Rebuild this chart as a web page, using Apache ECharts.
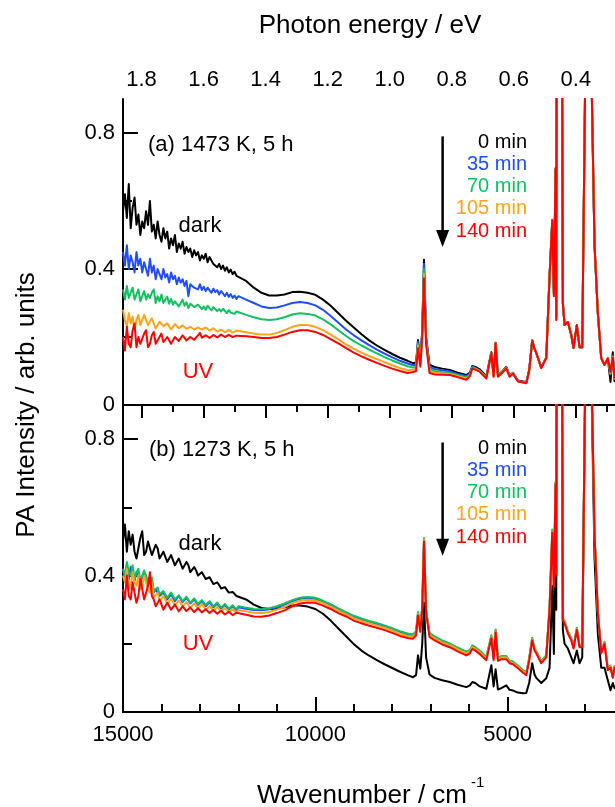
<!DOCTYPE html>
<html>
<head>
<meta charset="utf-8">
<script src="https://cdn.jsdelivr.net/npm/echarts@6/dist/echarts.min.js"></script>
<style>
  html, body { margin: 0; padding: 0; background: #fff; overflow: hidden; }
  #chart { width: 640px; height: 807px; }
</style>
</head>
<body>
<div id="chart"></div>
<script>
// wavenumber grid (cm-1), shared by every spectrum
const wavenumber = [
  15000,14950,14900,14850,14800,14750,14700,14650,14600,14550,
  14500,14450,14400,14350,14300,14250,14200,14150,14100,14050,
  14000,13950,13900,13850,13800,13750,13700,13650,13600,13550,
  13500,13450,13400,13350,13300,13250,13200,13150,13100,13050,
  13000,12950,12900,12850,12800,12750,12700,12650,12600,12550,
  12500,12450,12400,12350,12300,12250,12200,12150,12100,12050,
  12000,
  11800,11600,11400,11200,11000,10800,10600,10400,10200,10000,9800,9600,9400,9200,9000,8800,8600,8400,8200,8000,7800,7600,
  7460,7380,7330,7270,7220,7174,7120,7030,6900,6700,6506,6300,6073,5980,5917,5840,5727,5553,5423,5364,5312,5252,
  5164,5034,4948,4862,4732,4600,4514,4440,4360,4300,4255,4125,3995,3909,3839,3797,3753,3735,3720,3650,3600,3564,
  3519,3433,3345,3286,3200,3130,3060,2920,2740,2654,2566,2481,2395,2325,2265,2221,2100,2000
];

const timeLabels = ['0 min', '35 min', '70 min', '105 min', '140 min'];
const colors = ['#000000', '#1f4dff', '#12c060', '#ffa31a', '#ff0000'];

// (a) 1473 K, 5 h
const a0 = [
  0.57,0.62,0.55,0.65,0.52,0.58,0.61,0.53,0.56,0.50,
  0.54,0.52,0.57,0.53,0.60,0.51,0.53,0.49,0.54,0.50,
  0.48,0.52,0.49,0.51,0.46,0.49,0.47,0.50,0.45,0.475,
  0.46,0.48,0.445,0.465,0.45,0.46,0.435,0.455,0.44,0.45,
  0.425,0.44,0.43,0.445,0.42,0.435,0.425,0.415,0.42,0.405,
  0.415,0.40,0.41,0.395,0.405,0.39,0.398,0.385,0.392,0.38,
  0.383,
  0.365,0.345,0.33,0.322,0.322,0.325,0.332,0.333,0.33,0.324,0.31,0.292,0.27,0.248,0.228,0.208,0.19,0.175,0.162,0.15,0.139,0.13,
  0.123,0.125,0.191,0.13,0.22,0.427,0.2,0.118,0.112,0.107,0.103,0.095,0.088,0.095,0.115,0.112,0.105,0.085,0.155,0.088,0.183,0.088,0.096,0.112,0.087,0.095,0.072,0.069,0.067,0.103,0.19,0.165,0.153,0.11,0.14,0.38,0.54,0.33,0.69,0.26,1.6,1.3,1.6,0.3,0.235,0.244,0.206,0.168,0.235,0.17,0.17,1.6,0.47,0.27,0.138,0.118,0.137,0.068,0.155,0.07,0.07,0.07];
const a1 = [
  0.45,0.41,0.47,0.40,0.44,0.42,0.39,0.45,0.41,0.43,
  0.39,0.42,0.40,0.38,0.43,0.39,0.41,0.37,0.40,0.385,
  0.37,0.40,0.375,0.385,0.36,0.39,0.37,0.38,0.355,0.375,
  0.36,0.37,0.35,0.365,0.32,0.355,0.36,0.345,0.35,0.34,
  0.355,0.338,0.348,0.335,0.345,0.34,0.33,0.342,0.332,0.338,
  0.325,0.335,0.328,0.32,0.33,0.318,0.326,0.315,0.322,0.312,
  0.32,
  0.31,0.30,0.29,0.285,0.287,0.293,0.30,0.303,0.30,0.293,0.28,0.262,0.242,0.222,0.205,0.19,0.176,0.163,0.151,0.14,0.13,0.122,
  0.117,0.119,0.185,0.126,0.215,0.415,0.195,0.112,0.106,0.102,0.099,0.091,0.085,0.092,0.113,0.109,0.102,0.083,0.154,0.087,0.182,0.087,0.095,0.111,0.086,0.094,0.071,0.068,0.066,0.102,0.19,0.165,0.153,0.11,0.139,0.38,0.542,0.326,0.693,0.255,1.6,1.3,1.6,0.3,0.235,0.244,0.206,0.168,0.235,0.17,0.17,1.6,0.47,0.27,0.138,0.118,0.137,0.09,0.145,0.075,0.075,0.075];
const a2 = [
  0.34,0.31,0.35,0.315,0.33,0.345,0.31,0.325,0.34,0.305,
  0.32,0.335,0.31,0.325,0.315,0.33,0.34,0.30,0.32,0.305,
  0.325,0.30,0.31,0.318,0.298,0.312,0.295,0.305,0.31,0.29,
  0.30,0.31,0.292,0.302,0.285,0.298,0.30,0.288,0.283,0.295,
  0.295,0.282,0.29,0.28,0.292,0.285,0.278,0.288,0.283,0.276,
  0.282,0.275,0.283,0.278,0.27,0.279,0.272,0.276,0.268,0.275,
  0.272,
  0.265,0.258,0.252,0.25,0.252,0.258,0.266,0.27,0.268,0.263,0.252,0.237,0.22,0.203,0.188,0.175,0.163,0.152,0.141,0.131,0.122,0.114,
  0.11,0.113,0.18,0.121,0.21,0.40,0.19,0.106,0.1,0.097,0.095,0.088,0.081,0.089,0.111,0.107,0.1,0.081,0.153,0.086,0.182,0.086,0.094,0.11,0.085,0.093,0.07,0.067,0.065,0.101,0.191,0.165,0.153,0.11,0.139,0.38,0.545,0.324,0.695,0.252,1.6,1.3,1.6,0.3,0.235,0.244,0.206,0.168,0.235,0.17,0.17,1.6,0.47,0.27,0.138,0.118,0.137,0.092,0.142,0.078,0.078,0.078];
const a3 = [
  0.28,0.25,0.23,0.27,0.24,0.26,0.22,0.25,0.265,0.235,
  0.24,0.265,0.27,0.235,0.24,0.255,0.25,0.225,0.23,0.245,
  0.25,0.232,0.228,0.24,0.245,0.222,0.225,0.238,0.24,0.226,
  0.222,0.234,0.236,0.224,0.22,0.23,0.235,0.222,0.218,0.228,
  0.232,0.222,0.22,0.228,0.23,0.219,0.218,0.226,0.226,0.216,
  0.215,0.222,0.224,0.214,0.214,0.221,0.22,0.213,0.212,0.219,
  0.218,
  0.214,0.21,0.207,0.207,0.212,0.22,0.23,0.235,0.235,0.23,0.22,0.207,0.193,0.178,0.165,0.154,0.144,0.135,0.126,0.117,0.109,0.102,
  0.104,0.107,0.174,0.117,0.205,0.385,0.186,0.1,0.095,0.093,0.091,0.085,0.078,0.087,0.109,0.106,0.099,0.08,0.152,0.085,0.181,0.085,0.093,0.109,0.084,0.093,0.07,0.067,0.065,0.1,0.19,0.165,0.153,0.109,0.138,0.38,0.544,0.322,0.697,0.251,1.6,1.3,1.6,0.3,0.235,0.244,0.206,0.168,0.235,0.17,0.17,1.6,0.47,0.27,0.138,0.118,0.137,0.094,0.141,0.079,0.079,0.079];
const a4 = [
  0.20,0.16,0.23,0.18,0.17,0.22,0.24,0.17,0.20,0.18,
  0.175,0.21,0.22,0.17,0.18,0.205,0.215,0.18,0.185,0.2,
  0.21,0.185,0.18,0.2,0.205,0.18,0.185,0.2,0.2,0.188,
  0.19,0.205,0.21,0.19,0.19,0.2,0.205,0.192,0.195,0.205,
  0.212,0.198,0.196,0.205,0.21,0.197,0.198,0.206,0.208,0.199,
  0.2,0.207,0.21,0.2,0.2,0.206,0.207,0.2,0.199,0.204,
  0.205,
  0.202,0.2,0.197,0.197,0.2,0.207,0.215,0.22,0.22,0.215,0.206,0.194,0.181,0.167,0.154,0.143,0.133,0.124,0.115,0.107,0.1,0.094,
  0.097,0.1,0.167,0.113,0.2,0.373,0.18,0.094,0.09,0.089,0.088,0.082,0.074,0.085,0.108,0.104,0.098,0.078,0.152,0.083,0.181,0.083,0.092,0.108,0.083,0.092,0.069,0.066,0.064,0.1,0.19,0.165,0.153,0.109,0.138,0.38,0.544,0.32,0.697,0.25,1.6,1.3,1.6,0.3,0.235,0.244,0.206,0.168,0.235,0.17,0.17,1.6,0.47,0.27,0.138,0.118,0.137,0.097,0.14,0.08,0.08,0.08];

// (b) 1273 K, 5 h
const b0 = [
  0.50,0.55,0.47,0.53,0.49,0.52,0.47,0.45,0.48,0.51,
  0.53,0.46,0.47,0.50,0.50,0.46,0.46,0.49,0.48,0.45,
  0.45,0.47,0.47,0.44,0.44,0.46,0.455,0.43,0.435,0.45,
  0.445,0.42,0.425,0.44,0.43,0.41,0.41,0.425,0.415,0.40,
  0.40,0.41,0.405,0.39,0.39,0.395,0.385,0.375,0.375,0.38,
  0.372,0.362,0.362,0.366,0.358,0.35,0.35,0.352,0.347,0.34,
  0.34,
  0.33,0.315,0.305,0.302,0.303,0.307,0.312,0.312,0.309,0.302,0.288,0.268,0.245,0.222,0.199,0.18,0.165,0.152,0.14,0.129,0.118,0.108,
  0.102,0.108,0.166,0.127,0.2,0.32,0.16,0.11,0.1,0.093,0.088,0.08,0.073,0.078,0.088,0.085,0.075,0.068,0.137,0.075,0.125,0.066,0.07,0.078,0.065,0.063,0.057,0.055,0.056,0.085,0.143,0.11,0.1,0.085,0.099,0.13,0.37,0.17,0.6,0.3,1.6,1.3,1.6,0.24,0.2,0.186,0.16,0.143,0.18,0.143,0.16,1.6,0.45,0.23,0.13,0.13,0.093,0.064,0.085,0.07,0.07,0.07];
const b1 = [
  0.415,0.40,0.43,0.39,0.425,0.40,0.385,0.41,0.415,0.38,
  0.38,0.41,0.40,0.37,0.365,0.39,0.35,0.36,0.36,0.34,
  0.335,0.35,0.345,0.33,0.332,0.345,0.34,0.325,0.327,0.34,
  0.336,0.322,0.322,0.335,0.332,0.318,0.317,0.33,0.327,0.314,
  0.315,0.325,0.323,0.31,0.312,0.322,0.319,0.307,0.309,0.318,
  0.315,0.303,0.305,0.314,0.311,0.3,0.302,0.31,0.307,0.298,
  0.307,
  0.303,0.299,0.298,0.301,0.307,0.315,0.325,0.332,0.334,0.332,0.323,0.313,0.301,0.29,0.279,0.271,0.264,0.258,0.251,0.243,0.234,0.227,
  0.225,0.234,0.29,0.244,0.307,0.505,0.297,0.229,0.219,0.207,0.198,0.186,0.174,0.179,0.192,0.187,0.177,0.159,0.222,0.158,0.239,0.156,0.161,0.161,0.148,0.145,0.133,0.12,0.113,0.155,0.215,0.184,0.176,0.147,0.164,0.305,0.53,0.37,0.672,0.405,1.6,1.3,1.6,0.273,0.264,0.234,0.214,0.19,0.244,0.193,0.193,1.6,0.522,0.293,0.175,0.203,0.126,0.133,0.103,0.133,0.103,0.103];
const b2 = [
  0.42,0.40,0.44,0.41,0.40,0.43,0.39,0.41,0.42,0.385,
  0.385,0.415,0.41,0.375,0.37,0.395,0.355,0.36,0.365,0.345,
  0.34,0.355,0.35,0.335,0.335,0.35,0.345,0.33,0.33,0.342,
  0.34,0.325,0.325,0.338,0.335,0.32,0.32,0.333,0.33,0.317,
  0.318,0.328,0.326,0.313,0.315,0.325,0.322,0.31,0.312,0.321,
  0.318,0.306,0.308,0.317,0.314,0.303,0.305,0.313,0.31,0.301,
  0.31,
  0.306,0.302,0.301,0.304,0.31,0.318,0.328,0.335,0.337,0.335,0.326,0.316,0.304,0.293,0.282,0.274,0.267,0.261,0.254,0.246,0.237,0.23,
  0.228,0.237,0.293,0.247,0.31,0.51,0.3,0.232,0.222,0.21,0.201,0.189,0.177,0.182,0.195,0.19,0.18,0.162,0.225,0.161,0.242,0.159,0.164,0.164,0.151,0.148,0.136,0.123,0.116,0.158,0.218,0.187,0.179,0.15,0.167,0.31,0.535,0.372,0.675,0.41,1.6,1.3,1.6,0.276,0.267,0.237,0.217,0.193,0.247,0.196,0.196,1.6,0.525,0.296,0.178,0.206,0.129,0.136,0.105,0.135,0.105,0.105];
const b3 = [
  0.40,0.38,0.42,0.36,0.37,0.41,0.38,0.37,0.40,0.36,
  0.37,0.40,0.40,0.36,0.35,0.38,0.335,0.34,0.35,0.325,
  0.32,0.34,0.34,0.318,0.318,0.332,0.33,0.313,0.313,0.327,
  0.326,0.31,0.31,0.322,0.32,0.305,0.307,0.319,0.317,0.303,
  0.305,0.316,0.313,0.3,0.302,0.311,0.309,0.297,0.3,0.308,
  0.306,0.295,0.297,0.305,0.302,0.292,0.295,0.301,0.299,0.29,
  0.299,
  0.295,0.291,0.29,0.293,0.3,0.308,0.319,0.326,0.329,0.327,0.319,0.309,0.297,0.286,0.275,0.267,0.26,0.254,0.247,0.239,0.23,0.223,
  0.221,0.231,0.288,0.241,0.305,0.505,0.295,0.226,0.216,0.204,0.196,0.184,0.172,0.177,0.19,0.185,0.175,0.157,0.22,0.156,0.237,0.155,0.16,0.16,0.147,0.144,0.132,0.119,0.112,0.154,0.214,0.183,0.175,0.146,0.163,0.305,0.53,0.369,0.671,0.405,1.6,1.3,1.6,0.272,0.263,0.233,0.213,0.189,0.243,0.193,0.193,1.6,0.522,0.293,0.175,0.203,0.126,0.133,0.103,0.133,0.103,0.103];
const b4 = [
  0.36,0.33,0.40,0.34,0.33,0.38,0.35,0.32,0.34,0.39,
  0.36,0.33,0.35,0.37,0.41,0.34,0.33,0.31,0.31,0.33,
  0.335,0.30,0.30,0.32,0.325,0.30,0.30,0.315,0.315,0.295,
  0.298,0.31,0.312,0.296,0.296,0.306,0.308,0.293,0.295,0.304,
  0.305,0.292,0.293,0.301,0.302,0.29,0.292,0.299,0.298,0.288,
  0.29,0.297,0.296,0.286,0.288,0.294,0.293,0.284,0.286,0.291,
  0.29,
  0.285,0.28,0.279,0.283,0.29,0.298,0.31,0.318,0.321,0.32,0.312,0.302,0.29,0.28,0.268,0.26,0.253,0.247,0.24,0.232,0.223,0.217,
  0.215,0.225,0.283,0.235,0.3,0.5,0.29,0.22,0.21,0.198,0.19,0.178,0.166,0.172,0.185,0.18,0.17,0.152,0.216,0.152,0.233,0.15,0.155,0.155,0.143,0.14,0.128,0.115,0.108,0.15,0.21,0.18,0.172,0.143,0.16,0.3,0.526,0.366,0.668,0.4,1.6,1.3,1.6,0.269,0.26,0.23,0.21,0.186,0.24,0.19,0.19,1.6,0.52,0.29,0.172,0.2,0.123,0.13,0.1,0.13,0.1,0.1];

const panelA = [a0, a1, a2, a3, a4];
const panelB = [b0, b1, b2, b3, b4];

// axis ticks
const EV = 8065.54; // cm-1 per eV
const energyMajor = [1.8, 1.6, 1.4, 1.2, 1.0, 0.8, 0.6, 0.4];
const energyMinor = [1.7, 1.5, 1.3, 1.1, 0.9, 0.7, 0.5, 0.3];
const wnMajor = [15000, 10000, 5000];
const wnMinor = [14000, 13000, 12000, 11000, 9000, 8000, 7000, 6000, 4000, 3000];
const yMajor = [0, 0.4, 0.8];
const yMinor = [0.2, 0.6];

// arrows: [wavenumber, y start, y end] for each panel
const arrows = [[6690, 0.79, 0.465], [6690, 0.79, 0.458]];

const FONT = '"Liberation Sans", Arial, Helvetica, sans-serif';
const BLACK = { color: '#000', width: 2 };

const chart = echarts.init(document.getElementById('chart'), null, { renderer: 'canvas' });

function xAx(grid, position, o) {
  return Object.assign({
    gridIndex: grid, position: position, type: 'value', min: 2000, max: 15000, inverse: true,
    axisLine: { show: true, lineStyle: BLACK },
    axisTick: { show: false }, axisLabel: { show: false }, splitLine: { show: false }
  }, o);
}
function yAx(grid, position, o) {
  return Object.assign({
    gridIndex: grid, position: position, type: 'value', min: 0, max: 0.9,
    axisLine: { show: true, lineStyle: BLACK },
    axisTick: { show: false }, axisLabel: { show: false }, splitLine: { show: false }
  }, o);
}
const tick = (len, vals) => ({ show: true, inside: true, length: len, lineStyle: BLACK, customValues: vals });
const label = (vals, fmt, margin) => ({
  show: true, customValues: vals, formatter: fmt, margin: margin,
  color: '#000', fontSize: 22, fontFamily: FONT
});

const xAxis = [
  xAx(0, 'bottom', {}),
  xAx(0, 'top', {
    axisTick: tick(13, energyMajor.map(e => e * EV)),
    axisLabel: label(energyMajor.map(e => e * EV), v => (v / EV).toFixed(1), 8)
  }),
  xAx(0, 'top', { axisLine: { show: false }, axisTick: tick(7, energyMinor.map(e => e * EV)) }),
  xAx(1, 'bottom', {
    axisTick: tick(15, wnMajor),
    axisLabel: label(wnMajor, v => String(v), 12)
  }),
  xAx(1, 'bottom', { axisLine: { show: false }, axisTick: tick(8, wnMinor) }),
  xAx(1, 'top', {})
];

const yAxis = [
  yAx(0, 'left', { axisTick: tick(15, yMajor), axisLabel: label(yMajor, v => String(v), 8) }),
  yAx(0, 'left', { axisLine: { show: false }, axisTick: tick(9, yMinor) }),
  yAx(0, 'right', {}),
  yAx(1, 'left', { axisTick: tick(15, yMajor), axisLabel: label(yMajor, v => String(v), 8) }),
  yAx(1, 'left', { axisLine: { show: false }, axisTick: tick(9, yMinor) }),
  yAx(1, 'right', {})
];

function spectrum(values, color, xi, yi) {
  return {
    type: 'line', xAxisIndex: xi, yAxisIndex: yi,
    data: wavenumber.map((w, i) => [w, values[i]]),
    showSymbol: false, symbol: 'none', clip: true, silent: true,
    lineStyle: { color: color, width: 2, join: 'round' }
  };
}
const series = [];
panelA.forEach((v, i) => series.push(spectrum(v, colors[i], 0, 0)));
panelB.forEach((v, i) => series.push(spectrum(v, colors[i], 3, 3)));

function txt(text, x, y, size, color, align, extra) {
  return Object.assign({
    type: 'text', x: x, y: y, silent: true,
    style: { text: text, fill: color, fontSize: size, fontFamily: FONT, textAlign: align, textVerticalAlign: 'middle' }
  }, extra || {});
}

const graphic = [
  txt('Photon energy / eV', 370, 26, 26, '#000', 'center'),
  txt('Wavenumber / cm', 257, 796, 26, '#000', 'left'),
  txt('-1', 471, 783, 15, '#000', 'left'),
  txt('PA Intensity / arb. units', 27, 405, 26, '#000', 'center', { rotation: Math.PI / 2 }),
  txt('(a) 1473 K, 5 h', 148, 145, 22, '#000', 'left'),
  txt('(b) 1273 K, 5 h', 149, 450, 22, '#000', 'left'),
  txt('dark', 200, 226, 22, '#000', 'center'),
  txt('dark', 200, 544, 22, '#000', 'center'),
  txt('UV', 198, 372, 22, '#ff0000', 'center'),
  txt('UV', 198, 644, 22, '#ff0000', 'center')
];
const legendTopY = [142, 164, 186.5, 208.5, 231];
const legendBotY = [448, 470, 492, 514.5, 537];
timeLabels.forEach((t, i) => {
  graphic.push(txt(t, 527, legendTopY[i], 20, colors[i], 'right'));
  graphic.push(txt(t, 527, legendBotY[i], 20, colors[i], 'right'));
});

chart.setOption({
  animation: false,
  backgroundColor: '#fff',
  grid: [
    { left: 123, top: 99, width: 500, height: 306 },
    { left: 123, top: 405, width: 500, height: 307 }
  ],
  xAxis: xAxis,
  yAxis: yAxis,
  series: series,
  graphic: graphic
});

// arrows drawn in data coordinates of each panel
const arrowGraphics = [];
arrows.forEach((a, g) => {
  const p0 = chart.convertToPixel({ gridIndex: g }, [a[0], a[1]]);
  const p1 = chart.convertToPixel({ gridIndex: g }, [a[0], a[2]]);
  arrowGraphics.push({
    type: 'line', silent: true,
    shape: { x1: p0[0], y1: p0[1], x2: p1[0], y2: p1[1] - 12 },
    style: { stroke: '#000', lineWidth: 2.5 }
  });
  arrowGraphics.push({
    type: 'polygon', silent: true,
    shape: { points: [[p1[0], p1[1]], [p1[0] - 6.5, p1[1] - 17], [p1[0] + 6.5, p1[1] - 17]] },
    style: { fill: '#000' }
  });
});
chart.setOption({ graphic: graphic.concat(arrowGraphics) });
</script>
</body>
</html>
